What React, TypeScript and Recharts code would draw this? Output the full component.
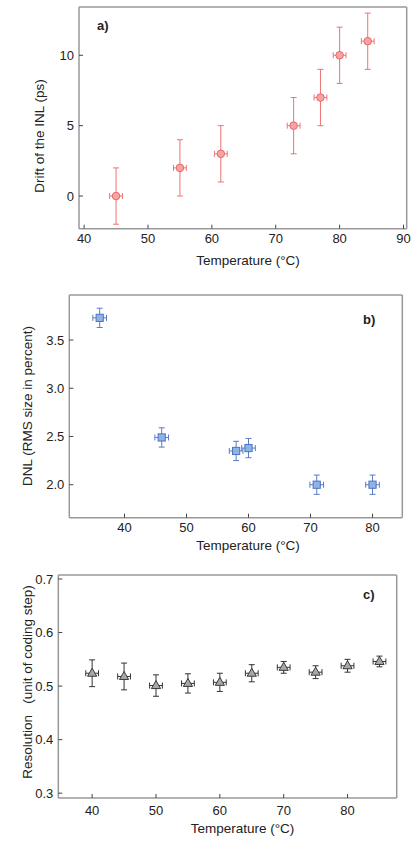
import React from 'react';
import { ScatterChart, Scatter, XAxis, YAxis, ErrorBar } from 'recharts';

const FONT = '"Liberation Sans", Arial, Helvetica, sans-serif';
const TEXT_COLOR = '#222';
const AXIS_COLOR = '#999';
const TICK_COLOR = '#444';

// ---------- Panel a) Drift of the INL ----------
const tempA = [45, 55, 61.4, 72.8, 77, 80, 84.4];
const inlDrift = [0, 2, 3, 5, 7, 10, 11];
const inlErrX = [1, 1, 1, 1, 1, 1, 1];
const inlErrY = [2, 2, 2, 2, 2, 2, 2];
const xTicksA = [40, 50, 60, 70, 80, 90];
const yTicksA = [0, 5, 10];

// ---------- Panel b) DNL ----------
const tempB = [36, 46, 58, 60, 71, 80];
const dnl = [3.73, 2.49, 2.35, 2.38, 2.0, 2.0];
const dnlErrX = [1.1, 1.1, 1.1, 1.1, 1.1, 1.1];
const dnlErrY = [0.1, 0.1, 0.1, 0.1, 0.1, 0.1];
const xTicksB = [40, 50, 60, 70, 80];
const yTicksB = [2.0, 2.5, 3.0, 3.5];

// ---------- Panel c) Resolution ----------
const tempC = [40, 45, 50, 55, 60, 65, 70, 75, 80, 85];
const resolution = [0.524, 0.518, 0.501, 0.505, 0.507, 0.524, 0.535, 0.526, 0.538, 0.546];
const resErrX = [1, 1, 1, 1, 1, 1, 1, 1, 1, 1];
const resErrY = [0.025, 0.025, 0.02, 0.018, 0.017, 0.016, 0.011, 0.012, 0.012, 0.01];
const xTicksC = [40, 50, 60, 70, 80];
const yTicksC = [0.3, 0.4, 0.5, 0.6, 0.7];

const build = (xs: number[], ys: number[], exs: number[], eys: number[]) =>
  xs.map((x, i) => ({ x, y: ys[i], ex: exs[i], ey: eys[i] }));

const dataA = build(tempA, inlDrift, inlErrX, inlErrY);
const dataB = build(tempB, dnl, dnlErrX, dnlErrY);
const dataC = build(tempC, resolution, resErrX, resErrY);

const TM = 5;

const makeXTick = (fmt: (v: number) => string, gap: number) => (props: any) => {
  const { x, y, payload } = props;
  const axisY = y - TM;
  return (
    <g>
      <line x1={x} x2={x} y1={axisY} y2={axisY - 4} stroke={TICK_COLOR} strokeWidth={1} />
      <text x={x} y={axisY + gap + 9.5} textAnchor="middle" fontSize={13} fill={TEXT_COLOR} fontFamily={FONT}>
        {fmt(payload.value)}
      </text>
    </g>
  );
};

const makeYTick = (fmt: (v: number) => string) => (props: any) => {
  const { x, y, payload } = props;
  const axisX = x + TM;
  return (
    <g>
      <line x1={axisX} x2={axisX + 4} y1={y} y2={y} stroke={TICK_COLOR} strokeWidth={1} />
      <text x={axisX - 5} y={y + 4.6} textAnchor="end" fontSize={13} fill={TEXT_COLOR} fontFamily={FONT}>
        {fmt(payload.value)}
      </text>
    </g>
  );
};

const circleShape = (props: any) => (
  <circle cx={props.cx} cy={props.cy} r={3.8} fill="#f5a3a3" stroke="#e8676a" strokeWidth={1} />
);
const squareShape = (props: any) => (
  <rect x={props.cx - 3.6} y={props.cy - 3.6} width={7.2} height={7.2} fill="#8eb4e3" stroke="#4f72c4" strokeWidth={1} />
);
const triangleShape = (props: any) => (
  <polygon
    points={`${props.cx},${props.cy - 5} ${props.cx - 4.6},${props.cy + 3} ${props.cx + 4.6},${props.cy + 3}`}
    fill="#a8a8a8"
    stroke="#3a3a3a"
    strokeWidth={1}
  />
);

type PanelProps = {
  top: number;
  height: number;
  margin: { top: number; right: number; bottom: number; left: number };
  xDomain: [number, number];
  yDomain: [number, number];
  xTicks: number[];
  yTicks: number[];
  xFmt: (v: number) => string;
  yFmt: (v: number) => string;
  xGap: number;
  data: any[];
  shape: any;
  errColor: string;
  children?: React.ReactNode;
};

function Panel(p: PanelProps) {
  return (
    <div style={{ position: 'absolute', left: 0, top: p.top, width: 416, height: p.height }}>
      <ScatterChart width={416} height={p.height} margin={p.margin}>
        <XAxis
          xAxisId="main"
          type="number"
          dataKey="x"
          domain={p.xDomain}
          ticks={p.xTicks}
          allowDataOverflow
          height={30}
          tickSize={0}
          tickMargin={TM}
          tickLine={false}
          axisLine={{ stroke: AXIS_COLOR, strokeWidth: 1.5 }}
          tick={makeXTick(p.xFmt, p.xGap)}
          interval={0}
        />
        <XAxis
          xAxisId="top"
          orientation="top"
          mirror
          type="number"
          dataKey="x"
          domain={p.xDomain}
          ticks={p.xTicks}
          allowDataOverflow
          tick={false}
          tickSize={4}
          tickLine={{ stroke: TICK_COLOR }}
          axisLine={{ stroke: AXIS_COLOR, strokeWidth: 1.5 }}
          interval={0}
        />
        <YAxis
          yAxisId="main"
          type="number"
          dataKey="y"
          domain={p.yDomain}
          ticks={p.yTicks}
          allowDataOverflow
          width={40}
          tickSize={0}
          tickMargin={TM}
          tickLine={false}
          axisLine={{ stroke: AXIS_COLOR, strokeWidth: 1.5 }}
          tick={makeYTick(p.yFmt)}
          interval={0}
        />
        <YAxis
          yAxisId="right"
          orientation="right"
          mirror
          type="number"
          dataKey="y"
          domain={p.yDomain}
          ticks={p.yTicks}
          allowDataOverflow
          tick={false}
          tickSize={4}
          tickLine={{ stroke: TICK_COLOR }}
          axisLine={{ stroke: AXIS_COLOR, strokeWidth: 1.5 }}
          interval={0}
        />
        <Scatter data={p.data} xAxisId="main" yAxisId="main" shape={p.shape} isAnimationActive={false}>
          <ErrorBar dataKey="ey" direction="y" width={3} stroke={p.errColor} strokeWidth={1} isAnimationActive={false} />
          <ErrorBar dataKey="ex" direction="x" width={3} stroke={p.errColor} strokeWidth={1} isAnimationActive={false} />
        </Scatter>
      </ScatterChart>
      <svg width={416} height={p.height} style={{ position: 'absolute', left: 0, top: 0, pointerEvents: 'none' }}>
        {p.children}
      </svg>
    </div>
  );
}

const fmtInt = (v: number) => String(v);
const fmt1 = (v: number) => v.toFixed(1);

export default function App() {
  return (
    <div style={{ position: 'absolute', left: 0, top: 0, width: 416, height: 841, background: '#fff', fontFamily: FONT }}>
      <Panel
        top={0}
        height={280}
        margin={{ top: 7, right: 9.3, bottom: 21.3, left: 39 }}
        xDomain={[39.2, 90.5]}
        yDomain={[-2.32, 13.43]}
        xTicks={xTicksA}
        yTicks={yTicksA}
        xFmt={fmtInt}
        yFmt={fmtInt}
        xGap={5}
        data={dataA}
        shape={circleShape}
        errColor="#ee7373"
      >
        <text x={97} y={29.5} fontSize={13} fontWeight="bold" fill={TEXT_COLOR} fontFamily={FONT}>a)</text>
        <text x={248} y={264.5} textAnchor="middle" fontSize={13.5} fill={TEXT_COLOR} fontFamily={FONT}>Temperature (°C)</text>
        <text x={43.5} y={136} transform="rotate(-90 43.5 136)" textAnchor="middle" fontSize={13.5} fill={TEXT_COLOR} fontFamily={FONT}>Drift of the INL (ps)</text>
      </Panel>
      <Panel
        top={280}
        height={280}
        margin={{ top: 15, right: 13.7, bottom: 12.3, left: 29.3 }}
        xDomain={[31.1, 84.8]}
        yDomain={[1.658, 3.967]}
        xTicks={xTicksB}
        yTicks={yTicksB}
        xFmt={fmtInt}
        yFmt={fmt1}
        xGap={5}
        data={dataB}
        shape={squareShape}
        errColor="#5b7bc9"
      >
        <text x={363} y={44} fontSize={13} fontWeight="bold" fill={TEXT_COLOR} fontFamily={FONT}>b)</text>
        <text x={248} y={269.5} textAnchor="middle" fontSize={13.5} fill={TEXT_COLOR} fontFamily={FONT}>Temperature (°C)</text>
        <text x={31.5} y={126} transform="rotate(-90 31.5 126)" textAnchor="middle" fontSize={13.5} fill={TEXT_COLOR} fontFamily={FONT}>DNL (RMS size in percent)</text>
      </Panel>
      <Panel
        top={560}
        height={281}
        margin={{ top: 15, right: 19.3, bottom: 13, left: 18.3 }}
        xDomain={[34.7, 87.7]}
        yDomain={[0.291, 0.7075]}
        xTicks={xTicksC}
        yTicks={yTicksC}
        xFmt={fmtInt}
        yFmt={fmt1}
        xGap={7}
        data={dataC}
        shape={triangleShape}
        errColor="#333"
      >
        <text x={363} y={38.5} fontSize={13} fontWeight="bold" fill={TEXT_COLOR} fontFamily={FONT}>c)</text>
        <text x={242.5} y={272.5} textAnchor="middle" fontSize={13.5} fill={TEXT_COLOR} fontFamily={FONT}>Temperature (°C)</text>
        <text x={31.5} y={122} transform="rotate(-90 31.5 122)" textAnchor="middle" fontSize={13.5} fill={TEXT_COLOR} fontFamily={FONT} style={{ whiteSpace: 'pre' }}>{'Resolution   (unit of coding step)'}</text>
      </Panel>
    </div>
  );
}
